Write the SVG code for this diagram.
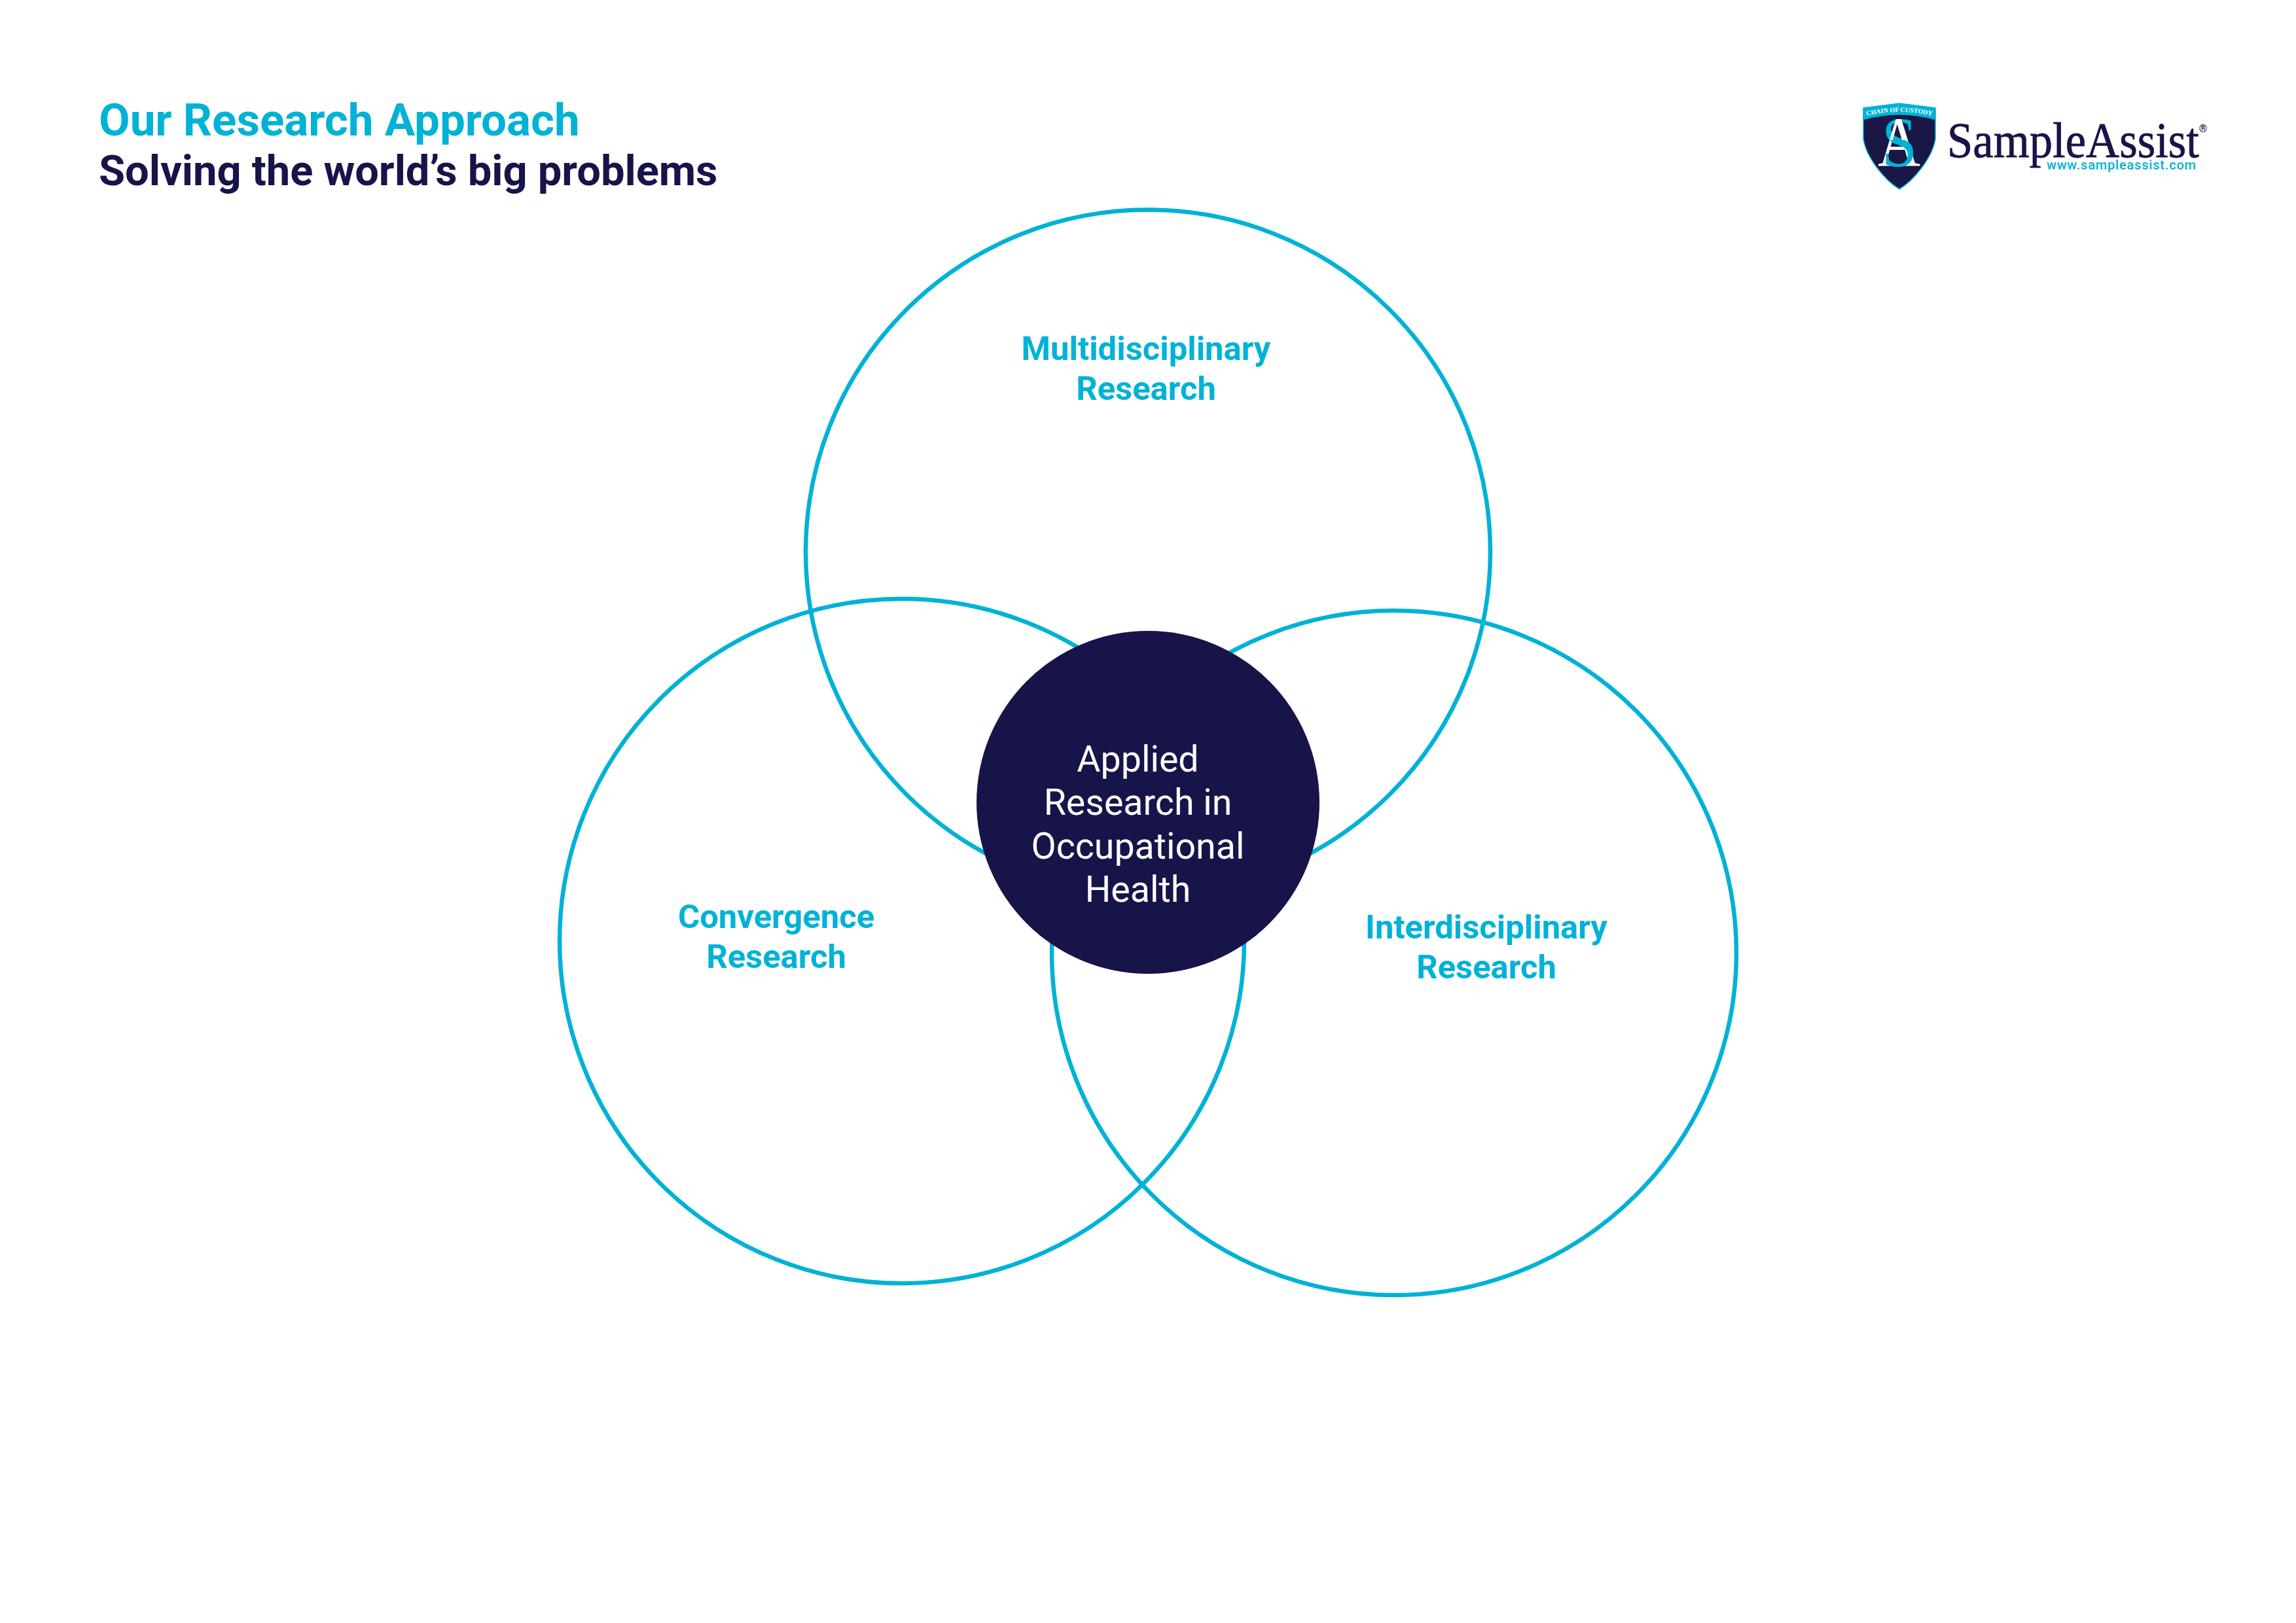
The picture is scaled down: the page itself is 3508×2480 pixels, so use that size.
<svg xmlns="http://www.w3.org/2000/svg" width="3508" height="2480" viewBox="0 0 3508 2480">
<style>
text{font-family:Roboto,"Liberation Sans",sans-serif}
.serif{font-family:"Liberation Serif",serif}
.ring{fill:none;stroke:#00b2d6;stroke-width:6.5}
.lab{fill:#00b2d6;font-size:50.800px;font-weight:700;text-anchor:middle}
.core{fill:#fff;font-size:55.500px;font-weight:400;text-anchor:middle}
.t{font-weight:700}
</style>
<defs>
<path id="arc" d="M2840 180Q2902 162 2964 180"/>
<clipPath id="lower"><rect x="2860" y="214" width="90" height="45"/></clipPath>
</defs>
<rect width="3508" height="2480" fill="#fff"/>
<g id="title">
<text class="t" x="151" y="207" font-size="69.100" fill="#00b2d6">Our Research Approach</text>
<text class="t" x="151" y="283" font-size="65" fill="#17144a">Solving the world’s big problems</text>
</g>
<g id="logo">
<path d="M2847 165L2902 158L2957 165L2957 212C2953 240 2925 275 2902 289C2879 275 2851 240 2847 212Z" fill="#1a1646" stroke="#00b2d6" stroke-width="1.500"/>
<path d="M2847 165L2902 158L2957 165L2956 183Q2902 168 2848 183Z" fill="#00b2d6"/>
<text class="serif" font-size="10" font-weight="700" fill="#fff"><textPath href="#arc" startOffset="50%" text-anchor="middle">CHAIN OF CUSTODY</textPath></text>
<text class="serif" x="2875" y="254" font-size="107" fill="#00b2d6" textLength="54" lengthAdjust="spacingAndGlyphs">S</text>
<text class="serif" x="2869" y="254" font-size="107" fill="#fff" textLength="65" lengthAdjust="spacingAndGlyphs">A</text>
<text class="serif" x="2875" y="254" font-size="107" fill="#00b2d6" textLength="54" lengthAdjust="spacingAndGlyphs" clip-path="url(#lower)">S</text>
<text class="serif" x="2975" y="240" font-size="76" fill="#17144a" stroke="#17144a" stroke-width="0.800" textLength="385" lengthAdjust="spacingAndGlyphs">SampleAssist</text>
<text x="3366" y="202" font-size="16" font-weight="700" fill="#17144a" text-anchor="middle">®</text>
<text x="3127" y="259" font-size="20" font-weight="500" fill="#00b2d6" textLength="228" lengthAdjust="spacing">www.sampleassist.com</text>
</g>
<g id="connectors"></g>
<g id="multidisciplinary">
<circle class="ring" cx="1754" cy="843.500" r="523"/>
<text class="lab" x="1751" y="550">Multidisciplinary</text>
<text class="lab" x="1751" y="611">Research</text>
</g>
<g id="convergence">
<circle class="ring" cx="1378" cy="1438" r="523"/>
<text class="lab" x="1186" y="1418">Convergence</text>
<text class="lab" x="1186" y="1479">Research</text>
</g>
<g id="interdisciplinary">
<circle class="ring" cx="2130" cy="1456" r="523"/>
<text class="lab" x="2271" y="1434">Interdisciplinary</text>
<text class="lab" x="2271" y="1495">Research</text>
</g>
<g id="applied">
<circle cx="1754" cy="1226" r="262" fill="#17144a"/>
<text class="core" x="1738.500" y="1179">Applied</text>
<text class="core" x="1738.500" y="1245">Research in</text>
<text class="core" x="1738.500" y="1312">Occupational</text>
<text class="core" x="1738.500" y="1378">Health</text>
</g>
</svg>
